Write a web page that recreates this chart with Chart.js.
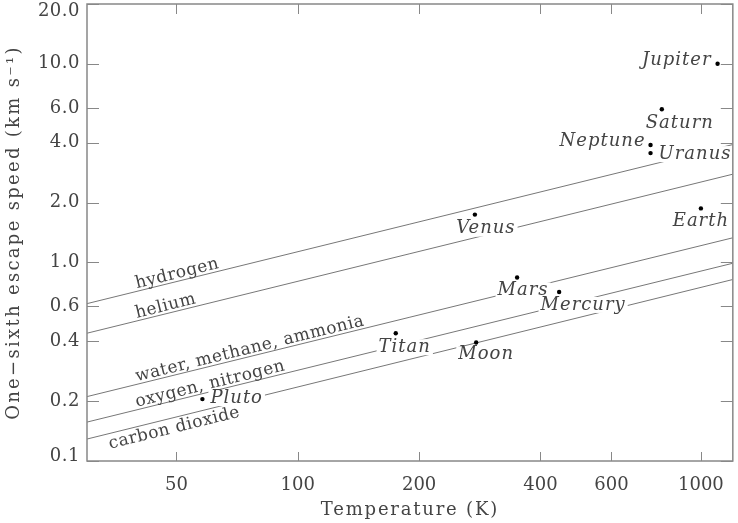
<!DOCTYPE html>
<html>
<head>
<meta charset="utf-8">
<script src="https://cdn.jsdelivr.net/npm/chart.js@4.4.1/dist/chart.umd.min.js"></script>
<style>
  html, body { margin: 0; padding: 0; background: #fff; }
</style>
</head>
<body>
<canvas id="myChart" width="738" height="523"></canvas>
<script>
// planets: temperature (K) and one-sixth of the escape speed (km/s)
const planetNames = ['Jupiter', 'Saturn', 'Neptune', 'Uranus', 'Earth', 'Venus', 'Mars', 'Mercury', 'Titan', 'Moon', 'Pluto'];
const planetTemps = [1100, 800, 750, 750, 1000, 275, 350, 445, 175, 277, 58];
const planetSpeeds = [10.0, 5.9, 3.9, 3.55, 1.87, 1.74, 0.84, 0.71, 0.44, 0.395, 0.205];

// gas retention lines, speed read at the left (30 K) and right (1200 K) edges
const gasNames = ['hydrogen', 'helium', 'water, methane, ammonia', 'oxygen, nitrogen', 'carbon dioxide'];
const gasTemps = [30, 1200];
const gasSpeedsLow = [0.62, 0.44, 0.211, 0.157, 0.129];
const gasSpeedsHigh = [3.92, 2.78, 1.33, 0.99, 0.82];

const xTicks = [50, 100, 200, 400, 600, 1000];
const yTicks = [0.1, 0.2, 0.4, 0.6, 1.0, 2.0, 4.0, 6.0, 10.0, 20.0];

// label placement (pixels from the dot)
const planetLabelPos = {
    Jupiter: { dx: -6, dy: -3, align: 'right' },
    Saturn: { dx: 18, dy: 14, align: 'center' },
    Neptune: { dx: -5, dy: -4, align: 'right' },
    Uranus: { dx: 8, dy: 1, align: 'left' },
    Earth: { dx: 0, dy: 13, align: 'center' },
    Venus: { dx: 11, dy: 14, align: 'center' },
    Mars: { dx: 6, dy: 13, align: 'center' },
    Mercury: { dx: 24, dy: 13, align: 'center' },
    Titan: { dx: 9, dy: 14, align: 'center' },
    Moon: { dx: 10, dy: 12, align: 'center' },
    Pluto: { dx: 8, dy: -1, align: 'left' }
};
// where along each line its name starts (K), and on which side
const gasLabelPos = [
    { t: 40, side: 'above' },
    { t: 40, side: 'above' },
    { t: 40, side: 'above' },
    { t: 40, side: 'above' },
    { t: 33.5, side: 'below' }
];

const SERIF = '"DejaVu Serif", serif';
const TEXT = '#444';
const AXIS = '#888';

const decorPlugin = {
    id: 'decor',
    beforeDatasetDraw(chart, args) {
        // planet names go on after the lines, before the dots
        if (args.index !== 0) return;
        const { ctx, scales: { x, y } } = chart;
        ctx.save();
        ctx.font = 'italic 18px ' + SERIF;
        ctx.letterSpacing = '1px';
        ctx.textBaseline = 'middle';
        planetNames.forEach((name, i) => {
            const px = x.getPixelForValue(planetTemps[i]);
            const py = y.getPixelForValue(planetSpeeds[i]);
            const p = planetLabelPos[name];
            const w = ctx.measureText(name).width;
            const lx = px + p.dx;
            const ly = py + p.dy;
            const left = p.align === 'left' ? lx : p.align === 'right' ? lx - w : lx - w / 2;
            ctx.fillStyle = '#fff';
            ctx.fillRect(left - 2, ly - 8, w + 4, 16);
            ctx.fillStyle = TEXT;
            ctx.textAlign = p.align;
            ctx.fillText(name, lx, ly);
        });
        ctx.restore();
    },
    afterDraw(chart) {
        const { ctx, chartArea: a, scales: { x, y } } = chart;
        ctx.save();

        // gas names, tilted along their lines
        ctx.font = '17px ' + SERIF;
        ctx.letterSpacing = '0.5px';
        ctx.fillStyle = TEXT;
        ctx.textAlign = 'left';
        gasNames.forEach((name, i) => {
            const x1 = x.getPixelForValue(gasTemps[0]), y1 = y.getPixelForValue(gasSpeedsLow[i]);
            const x2 = x.getPixelForValue(gasTemps[1]), y2 = y.getPixelForValue(gasSpeedsHigh[i]);
            const ang = Math.atan2(y2 - y1, x2 - x1);
            const p = gasLabelPos[i];
            const px = x.getPixelForValue(p.t);
            const py = y1 + (px - x1) * (y2 - y1) / (x2 - x1);
            ctx.save();
            ctx.translate(px, py);
            ctx.rotate(ang);
            if (p.side === 'above') {
                ctx.textBaseline = 'alphabetic';
                ctx.fillText(name, 0, -3);
            } else {
                ctx.textBaseline = 'top';
                ctx.fillText(name, 0, 2);
            }
            ctx.restore();
        });

        // frame with inward ticks on all four sides
        ctx.strokeStyle = AXIS;
        ctx.lineWidth = 1.5;
        ctx.strokeRect(a.left, a.top, a.right - a.left, a.bottom - a.top);
        ctx.beginPath();
        xTicks.forEach(v => {
            const px = Math.round(x.getPixelForValue(v)) + 0.5;
            ctx.moveTo(px, a.bottom); ctx.lineTo(px, a.bottom - 9);
            ctx.moveTo(px, a.top); ctx.lineTo(px, a.top + 10);
        });
        yTicks.forEach(v => {
            const py = Math.round(y.getPixelForValue(v)) + 0.5;
            ctx.moveTo(a.left, py); ctx.lineTo(a.left + 12, py);
            ctx.moveTo(a.right, py); ctx.lineTo(a.right - 12, py);
        });
        ctx.lineWidth = 1;
        ctx.stroke();

        // y tick labels, kept inside the canvas at the ends
        ctx.font = '18px ' + SERIF;
        ctx.letterSpacing = '0.5px';
        ctx.textAlign = 'right';
        ctx.textBaseline = 'middle';
        yTicks.forEach(v => {
            let py = y.getPixelForValue(v);
            py = Math.min(Math.max(py, a.top + 7), a.bottom - 5);
            ctx.fillText(v.toFixed(1), a.left - 7, py);
        });

        // axis titles
        ctx.letterSpacing = '1.8px';
        ctx.textAlign = 'center';
        ctx.textBaseline = 'alphabetic';
        ctx.fillText('Temperature (K)', (a.left + a.right) / 2, 515);
        ctx.save();
        ctx.translate(19, (a.top + a.bottom) / 2);
        ctx.rotate(-Math.PI / 2);
        ctx.letterSpacing = '2.3px';
        ctx.fillText('One\u2212sixth escape speed (km s\u207B\u00B9)', 0, 0);
        ctx.restore();

        ctx.restore();
    }
};

const datasets = [{
    label: 'planets',
    data: planetNames.map((n, i) => ({ x: planetTemps[i], y: planetSpeeds[i] })),
    pointRadius: 2.2,
    pointBackgroundColor: '#000',
    pointBorderWidth: 0,
    showLine: false
}];
gasNames.forEach((name, i) => {
    datasets.push({
        label: name,
        data: [{ x: gasTemps[0], y: gasSpeedsLow[i] }, { x: gasTemps[1], y: gasSpeedsHigh[i] }],
        showLine: true,
        borderColor: '#777',
        borderWidth: 1,
        pointRadius: 0
    });
});

new Chart(document.getElementById('myChart').getContext('2d'), {
    type: 'scatter',
    data: { datasets },
    options: {
        responsive: false,
        animation: false,
        devicePixelRatio: 1,
        layout: { padding: { top: 2, right: 4, left: 0, bottom: 0 } },
        plugins: { legend: { display: false }, tooltip: { enabled: false } },
        scales: {
            x: {
                type: 'logarithmic',
                min: 30,
                max: 1200,
                afterBuildTicks: s => { s.ticks = xTicks.map(v => ({ value: v })); },
                afterFit: s => { s.height = 62; },
                grid: { display: false, drawTicks: false },
                border: { display: false },
                ticks: {
                    autoSkip: false,
                    maxRotation: 0,
                    padding: 14,
                    color: TEXT,
                    font: { family: SERIF, size: 18 },
                    callback: v => String(v)
                }
            },
            y: {
                type: 'logarithmic',
                min: 0.1,
                max: 20,
                afterBuildTicks: s => { s.ticks = yTicks.map(v => ({ value: v })); },
                afterFit: s => { s.width = 87; },
                grid: { display: false, drawTicks: false },
                border: { display: false },
                ticks: { display: false }
            }
        }
    },
    plugins: [decorPlugin]
});
</script>
</body>
</html>
